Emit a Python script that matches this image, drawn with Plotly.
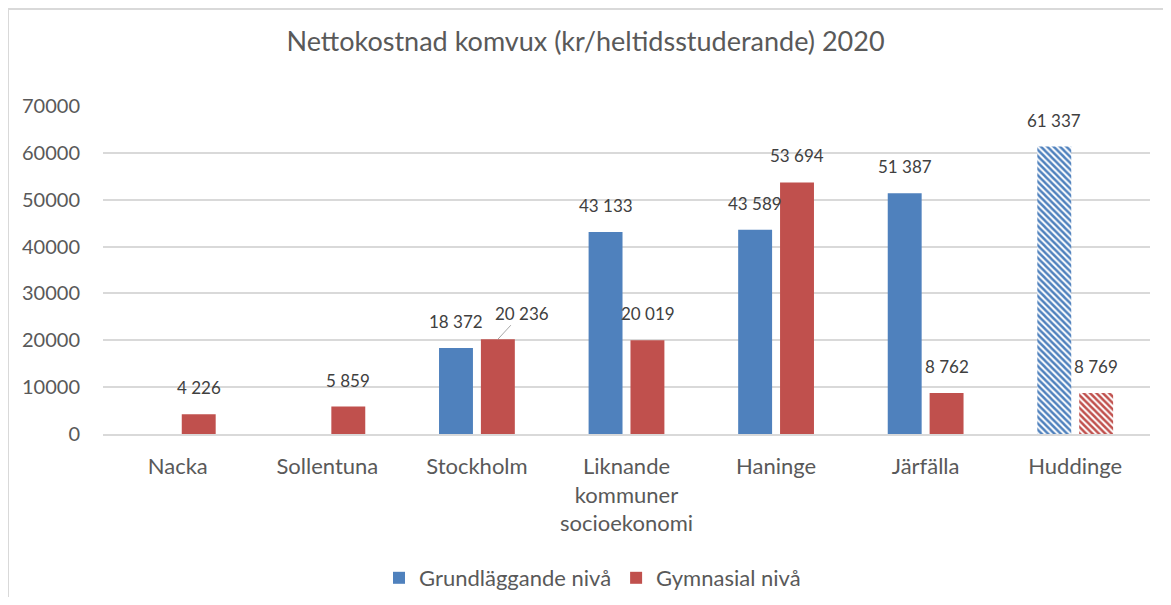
import plotly.graph_objects as go

kommuner = ["Nacka", "Sollentuna", "Stockholm", "Liknande<br>kommuner<br>socioekonomi",
            "Haninge", "Järfälla", "Huddinge"]
grund = [None, None, 18372, 43133, 43589, 51387, 61337]
gymn = [4226, 5859, 20236, 20019, 53694, 8762, 8769]
# Huddinge is shown hatched in the original
monster = ["", "", "", "", "", "", "\\"]

BLUE = "#4F81BD"
RED = "#C0504D"
GREY = "#595959"
FONT = "Lato"

# the page body has an 8px margin, so the figure starts at (8, 8)
W, H = 1155, 589
L, R, T, B = 95, 1142, 98, 426

fig = go.Figure()
fig.add_trace(go.Bar(
    x=kommuner, y=grund, name="Grundläggande nivå",
    marker=dict(color=BLUE, line=dict(width=0),
                pattern=dict(shape=monster, fgcolor=BLUE, bgcolor="white",
                             size=4.5, solidity=0.55, fillmode="replace")),
))
fig.add_trace(go.Bar(
    x=kommuner, y=gymn, name="Gymnasial nivå",
    marker=dict(color=RED, line=dict(width=0),
                pattern=dict(shape=monster, fgcolor=RED, bgcolor="white",
                             size=4.5, solidity=0.55, fillmode="replace")),
))


def fmt(v):
    return f"{v:,}".replace(",", " ")


annots = []
for serie, shift in ((grund, -21), (gymn, 21)):
    for k, v in zip(kommuner, serie):
        if v is None:
            continue
        a = dict(x=k, y=v, text=fmt(v), xshift=shift, showarrow=False,
                 yanchor="bottom", yshift=14,
                 font=dict(family=FONT, size=17, color="#404040"))
        if serie is gymn and k == "Stockholm":
            # label pushed aside with a leader line
            a.update(showarrow=True, arrowhead=0, arrowwidth=1, arrowcolor="#A6A6A6",
                     ax=24, ay=-26, yshift=0, xanchor="center", yanchor="middle")
        annots.append(a)


def px(x):
    return (x - L) / (R - L)


def py(y):
    return (B - y) / (B - T)


shapes = [
    dict(type="line", xref="paper", yref="paper", x0=px(0), x1=px(W), y0=py(1), y1=py(1),
         line=dict(color="#D9D9D9", width=2)),
    dict(type="line", xref="paper", yref="paper", x0=px(0), x1=px(0), y0=py(1), y1=py(H),
         line=dict(color="#D9D9D9", width=2)),
]

fig.update_layout(
    width=W, height=H,
    margin=dict(l=L, r=W - R, t=T, b=H - B, autoexpand=False),
    paper_bgcolor="white", plot_bgcolor="white",
    barmode="group", bargap=0.44, bargroupgap=0.19,
    title=dict(text="Nettokostnad komvux (kr/heltidsstuderande) 2020",
               x=0.5, xref="container", xanchor="center",
               y=1 - 34 / H, yref="container", yanchor="middle",
               font=dict(family=FONT, size=27, color=GREY)),
    font=dict(family=FONT, size=20, color=GREY),
    legend=dict(orientation="h", x=0.5 - 34 / (R - L), xanchor="center", y=py(570),
                yanchor="middle", font=dict(family=FONT, size=22, color=GREY),
                itemclick=False, traceorder="normal", itemwidth=30),
    annotations=annots,
    shapes=shapes,
)
fig.update_yaxes(range=[0, 70000], dtick=10000, showgrid=True, gridcolor="#D9D9D9",
                 gridwidth=1.5, zeroline=False, showline=False, tickformat="d",
                 ticklabelstandoff=22, tickfont=dict(family=FONT, size=20, color=GREY))
fig.update_xaxes(showline=True, linecolor="#D9D9D9", linewidth=1.5, ticks="",
                 ticklabelstandoff=12, tickfont=dict(family=FONT, size=22, color=GREY))

fig.write_html("out.html")
